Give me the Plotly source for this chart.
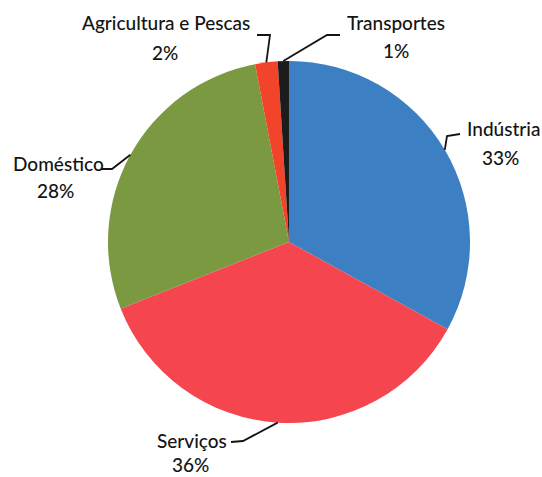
import math
import plotly.graph_objects as go

labels = ["Indústria", "Serviços", "Doméstico", "Agricultura e Pescas", "Transportes"]
values = [33, 36, 28, 2, 1]
colors = ["#3c7fc3", "#f5464f", "#7b9941", "#f2442b", "#1c1c1c"]

W, H = 542, 477
CX, CY, R = 289, 242, 181  # pie center/radius in pixels (layout)

def px(x, y):
    return x / W, 1 - y / H

# label layout (pixels): name position, pct position, leader knee points
label_layout = {
    "Indústria": dict(name=(503, 128), pct=(500, 157), knee=[(447, 136), (460, 134)]),
    "Serviços": dict(name=(192, 440), pct=(190, 464), knee=[(243, 441), (231, 442)]),
    "Doméstico": dict(name=(58, 163), pct=(55, 190), knee=[(112, 169), (101, 169)]),
    "Agricultura e Pescas": dict(name=(166, 23), pct=(165, 52), knee=[(270, 35), (257, 35)]),
    "Transportes": dict(name=(396, 23), pct=(396, 51), knee=[(327, 35), (340, 35)]),
}

fig = go.Figure(go.Pie(
    labels=labels, values=values, sort=False, direction="clockwise", rotation=0,
    marker=dict(colors=colors, line=dict(width=0)),
    textinfo="none", hoverinfo="label+percent", showlegend=False,
    domain=dict(x=[(CX - R) / W, (CX + R) / W], y=[1 - (CY + R) / H, 1 - (CY - R) / H]),
))

font = dict(family="Lato, 'Open Sans', sans-serif", size=19, color="#141414", weight=500)
annotations = []
shapes = []
total = sum(values)
cum = 0
for lab, v in zip(labels, values):
    mid = (cum + v / 2) / total * 2 * math.pi
    cum += v
    sx = CX + R * math.sin(mid)
    sy = CY - R * math.cos(mid)
    L = label_layout[lab]
    pts = [(sx, sy)] + L["knee"]
    path = "M " + " L ".join(f"{px(x, y)[0]:.5f},{px(x, y)[1]:.5f}" for x, y in pts)
    shapes.append(dict(type="path", path=path, xref="paper", yref="paper",
                       line=dict(color="#141414", width=1.8)))
    nx, ny = px(*L["name"])
    annotations.append(dict(text=lab, x=nx, y=ny, xref="paper", yref="paper",
                            showarrow=False, xanchor="center", yanchor="middle", font=font))
    qx, qy = px(*L["pct"])
    annotations.append(dict(text=f"{v}%", x=qx, y=qy, xref="paper", yref="paper",
                            showarrow=False, xanchor="center", yanchor="middle", font=font))

fig.update_layout(
    width=W, height=H, margin=dict(l=0, r=0, t=0, b=0),
    paper_bgcolor="white", plot_bgcolor="white",
    annotations=annotations, shapes=shapes,
)
fig.write_html("out.html")
